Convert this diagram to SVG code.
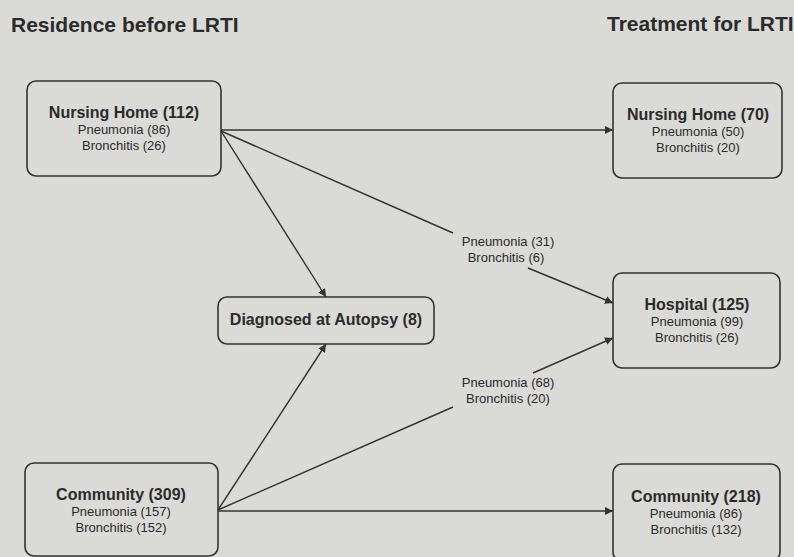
<svg xmlns="http://www.w3.org/2000/svg" width="794" height="557" viewBox="0 0 794 557">
<style>
text{font-family:"Liberation Sans",Arial,Helvetica,sans-serif;fill:#2b2b2b;text-anchor:middle}
.title{font-size:21px;font-weight:bold;text-anchor:start}
.h{font-size:16px;font-weight:bold}
.s{font-size:13px}
.box{fill:none;stroke:#333;stroke-width:1.6}
.ln{fill:none;stroke:#333;stroke-width:1.4}
</style>
<defs>
<marker id="arr" viewBox="0 0 10 10" refX="10" refY="5" markerWidth="8" markerHeight="8" markerUnits="userSpaceOnUse" orient="auto">
<path d="M0,0 L10,5 L0,10 z" fill="#333"/>
</marker>
</defs>
<rect x="0" y="0" width="794" height="557" fill="#dadad7"/>
<text class="title" x="11" y="32">Residence before LRTI</text>
<text class="title" x="607" y="31">Treatment for LRTI</text>
<g id="connectors">
<line class="ln" x1="221" y1="130" x2="613" y2="130" marker-end="url(#arr)"/>
<line class="ln" x1="221" y1="131" x2="326" y2="297" marker-end="url(#arr)"/>
<line class="ln" x1="221" y1="131" x2="453" y2="233"/>
<line class="ln" x1="528" y1="268" x2="613" y2="303" marker-end="url(#arr)"/>
<line class="ln" x1="218" y1="510" x2="326" y2="344" marker-end="url(#arr)"/>
<line class="ln" x1="218" y1="510" x2="453" y2="407"/>
<line class="ln" x1="533" y1="373" x2="613" y2="338" marker-end="url(#arr)"/>
<line class="ln" x1="218" y1="511" x2="613" y2="511" marker-end="url(#arr)"/>
<g id="label-nh-hosp">
<text class="s" x="508" y="246">Pneumonia (31)</text>
<text class="s" x="506" y="262">Bronchitis (6)</text>
</g>
<g id="label-com-hosp">
<text class="s" x="508" y="387">Pneumonia (68)</text>
<text class="s" x="508" y="403">Bronchitis (20)</text>
</g>
</g>
<g id="nursing-home-before">
<rect class="box" x="27" y="81" width="194" height="95" rx="9"/>
<text class="h" x="124" y="118">Nursing Home (112)</text>
<text class="s" x="124" y="134">Pneumonia (86)</text>
<text class="s" x="124" y="150">Bronchitis (26)</text>
</g>
<g id="community-before">
<rect class="box" x="25" y="463" width="193" height="93" rx="9"/>
<text class="h" x="121" y="500">Community (309)</text>
<text class="s" x="121" y="516">Pneumonia (157)</text>
<text class="s" x="121" y="532">Bronchitis (152)</text>
</g>
<g id="autopsy">
<rect class="box" x="218" y="297" width="216" height="47" rx="9"/>
<text class="h" x="326" y="325">Diagnosed at Autopsy (8)</text>
</g>
<g id="nursing-home-treat">
<rect class="box" x="613" y="83" width="169" height="95" rx="9"/>
<text class="h" x="698" y="120">Nursing Home (70)</text>
<text class="s" x="698" y="136">Pneumonia (50)</text>
<text class="s" x="698" y="152">Bronchitis (20)</text>
</g>
<g id="hospital">
<rect class="box" x="613" y="273" width="167" height="95" rx="9"/>
<text class="h" x="697" y="310">Hospital (125)</text>
<text class="s" x="697" y="326">Pneumonia (99)</text>
<text class="s" x="697" y="342">Bronchitis (26)</text>
</g>
<g id="community-treat">
<rect class="box" x="613" y="464" width="167" height="97" rx="9"/>
<text class="h" x="696" y="502">Community (218)</text>
<text class="s" x="696" y="518">Pneumonia (86)</text>
<text class="s" x="696" y="534">Bronchitis (132)</text>
</g>
</svg>
